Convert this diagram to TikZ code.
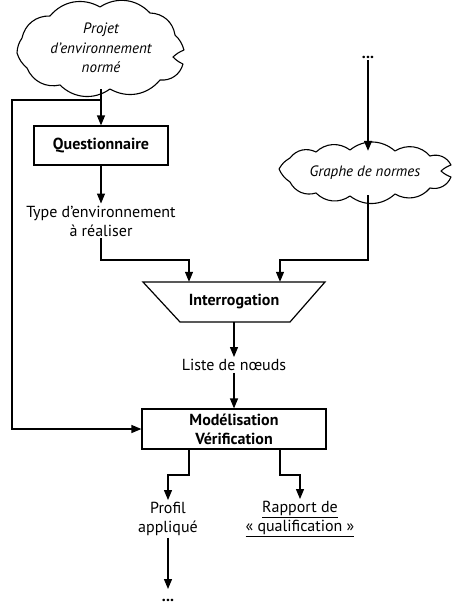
\documentclass[tikz,border=0pt]{standalone}
\usepackage{fontspec}
\setmainfont{PT Sans}
\usetikzlibrary{arrows.meta,calc}
\newcommand{\fs}{\fontsize{16}{19}\selectfont}
\newcommand{\fsi}{\fontsize{15}{19.5}\selectfont\itshape}
\tikzset{
  arr/.style={-{Triangle[length=10pt,width=8pt]}, line width=1.2pt},
  boxnode/.style={draw, line width=1.2pt, font=\fs\bfseries, inner sep=0pt, align=center},
  txt/.style={align=center, inner sep=2pt, font=\fs},
  cloudtxt/.style={inner sep=0pt, font=\fsi, align=center},
  cloudline/.style={line width=1.1pt, line join=round},
  bump/.style={bend left=40},
  wisp/.style={bend left=15},
}
\begin{document}
\begin{tikzpicture}[x=1pt,y=-1pt]
\useasboundingbox (0,0) rectangle (452,608);
% cloud 1
\draw[cloudline] (17,53) to[wisp] (22,38) to[bump] (50,16) to[bump] (100,7) to[bump] (150,13)
  to[bump] (175,35) to[wisp] (184,50) to[bend right=10] (173,57) to[bend right=10] (183,64)
  to[bump] (160,80) to[bump] (110,89) to[bump] (60,85) to[bump] (27,68) to[wisp] cycle;
\node[cloudtxt, minimum width=163pt, minimum height=82pt] (c1) at (101,48) {Projet\\d’environnement\\normé};
% cloud 2
\draw[cloudline] (279,169) to[wisp] (290,158) to[bump] (316,152) to[bump] (350,150) to[bump] (395,151)
  to[bump] (430,156) to[bump] (451,165) to[bend right=10] (441,171) to[bend right=10] (451,177)
  to[bump] (430,188) to[bump] (395,194) to[bump] (350,196) to[bump] (316,193) to[bump] (290,182) to[wisp] cycle;
\node[cloudtxt, minimum width=172pt, minimum height=44pt] (c2) at (365,173) {Graphe de normes};
% boxes
\node[boxnode, minimum width=134pt, minimum height=39pt] (q) at (101,145.5) {Questionnaire};
\node[txt] (type) at (101,221) {Type d’environnement\\à réaliser};
\node[txt] (dots1) at (368,57) {\textbf{...}};
% trapezoid
\draw[line width=1.2pt] (143,282) -- (325,282) -- (290,322) -- (180,322) -- cycle;
\node[minimum width=182pt, minimum height=40pt, inner sep=0pt, font=\fs\bfseries] (interr) at (234,302) {Interrogation};
\node[txt] (liste) at (234,365) {Liste de nœuds};
\node[boxnode, minimum width=184pt, minimum height=40pt] (mv) at (234,429) {Modélisation\\Vérification};
\node[txt] (profil) at (168,519) {Profil\\appliqué};
\node[txt] (rapport) at (300,519) {\underline{Rapport de}\\\underline{«~qualification~»}};
\node[txt, inner sep=0pt] (dots2) at (168,600) {\textbf{...}};
% junction coordinates
\coordinate (br) at (101,100);
\coordinate (lft) at (12,100);
\coordinate (j1) at (189,260);
\coordinate (j2) at (280,260);
\coordinate (j3) at (168,475);
\coordinate (j4) at (300,475);
\coordinate (pe) at (168,589);
% connectors
\draw[arr] (c1.south) -- (q.north);
\draw[arr] (br) -- (lft) |- (mv.west);
\draw[arr] (q.south) -- (type.north);
\draw[arr] (type.south) |- (j1) -- (j1 |- interr.north);
\draw[arr] (dots1.south) -- (dots1.south |- c2.north);
\draw[arr] (c2.south -| dots1.south) |- (j2) -- (j2 |- interr.north);
\draw[arr] (interr.south) -- (liste.north);
\draw[arr] (liste.south) -- (mv.north);
\draw[arr] (mv.south -| j1) |- (j3) -- (j3 |- profil.north);
\draw[arr] (mv.south -| j2) |- (j4) -- (j4 |- rapport.north);
\draw[arr] (profil.south) -- (pe);
\end{tikzpicture}
\end{document}
